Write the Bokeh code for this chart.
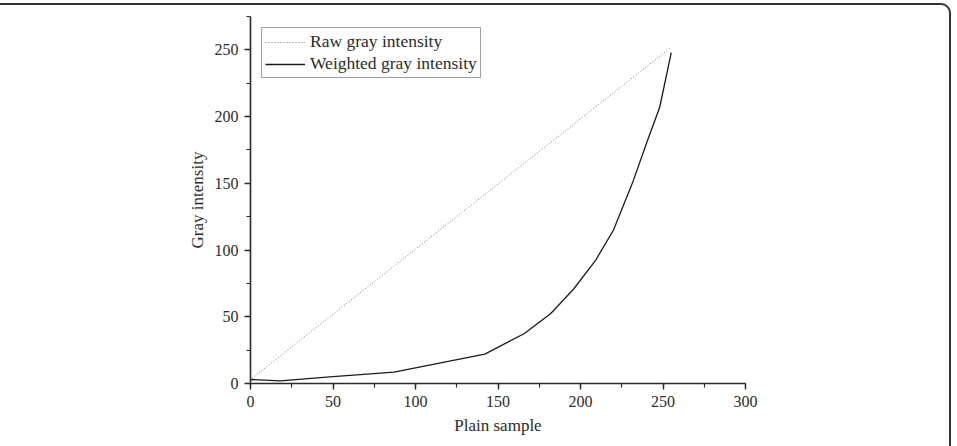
from bokeh.plotting import figure
from bokeh.models import SingleIntervalTicker, Range1d, Legend, LegendItem, InlineStyleSheet
from bokeh.embed import file_html
from bokeh.resources import INLINE

# Data
raw_x = [1, 255]
raw_y = [4, 252]

weighted_x = [0, 18, 48, 87, 142, 166, 182, 196, 209, 220, 232, 240, 248, 255]
weighted_y = [3, 2, 5, 8.5, 22, 37.5, 52.5, 71, 92, 115, 152, 180, 207, 248]

x_label = "Plain sample"
y_label = "Gray intensity"
raw_name = "Raw gray intensity"
weighted_name = "Weighted gray intensity"

FONT = "Liberation Serif"
DARK = "#2b2b2b"

frame_css = InlineStyleSheet(css="""
:host { position: relative; }
:host::after {
  content: "";
  position: absolute;
  left: -30px; top: 3px;
  width: 981px; height: 520px;
  border: 2px solid #333333;
  border-radius: 10px;
  pointer-events: none;
  box-sizing: border-box;
}
""")

p = figure(width=957, height=446, output_backend="svg", toolbar_location=None,
           x_range=Range1d(0, 300), y_range=Range1d(0, 275),
           min_border_left=250, min_border_right=212,
           min_border_top=16, min_border_bottom=63,
           stylesheets=[frame_css])
p.xgrid.visible = False
p.ygrid.visible = False
p.outline_line_color = None
p.background_fill_color = "white"
p.border_fill_color = "white"

r_raw = p.line(raw_x, raw_y, line_color="#777777", line_width=1, line_dash="1 2")
r_w = p.line(weighted_x, weighted_y, line_color="#1a1a1a", line_width=1.3)

for ax, lab in ((p.xaxis[0], x_label), (p.yaxis[0], y_label)):
    ax.ticker = SingleIntervalTicker(interval=50, num_minor_ticks=2)
    ax.axis_label = lab
    ax.axis_label_text_font = FONT
    ax.axis_label_text_font_size = "17px"
    ax.axis_label_text_font_style = "normal"
    ax.axis_label_text_color = DARK
    ax.major_label_text_font = FONT
    ax.major_label_text_font_size = "16px"
    ax.major_label_text_color = DARK
    ax.axis_line_color = DARK
    ax.axis_line_width = 1.6
    ax.major_tick_line_color = DARK
    ax.major_tick_line_width = 1.4
    ax.minor_tick_line_color = DARK
    ax.minor_tick_line_width = 1.2
    ax.major_tick_in = 0
    ax.major_tick_out = 6
    ax.minor_tick_in = 0
    ax.minor_tick_out = 4

p.xaxis[0].major_label_standoff = 6
p.xaxis[0].axis_label_standoff = 6
p.yaxis[0].major_label_standoff = 6
p.yaxis[0].axis_label_standoff = 5

legend = Legend(items=[LegendItem(label=raw_name, renderers=[r_raw]),
                       LegendItem(label=weighted_name, renderers=[r_w])],
                location="top_left", margin=11, padding=3, spacing=1,
                label_height=16, glyph_height=16, glyph_width=40, label_standoff=5,
                label_text_font=FONT, label_text_font_size="17.5px", label_text_color=DARK,
                border_line_color="#444444", border_line_width=1,
                background_fill_color="white", background_fill_alpha=1)
p.add_layout(legend)

open("out.html", "w").write(file_html(p, INLINE))
